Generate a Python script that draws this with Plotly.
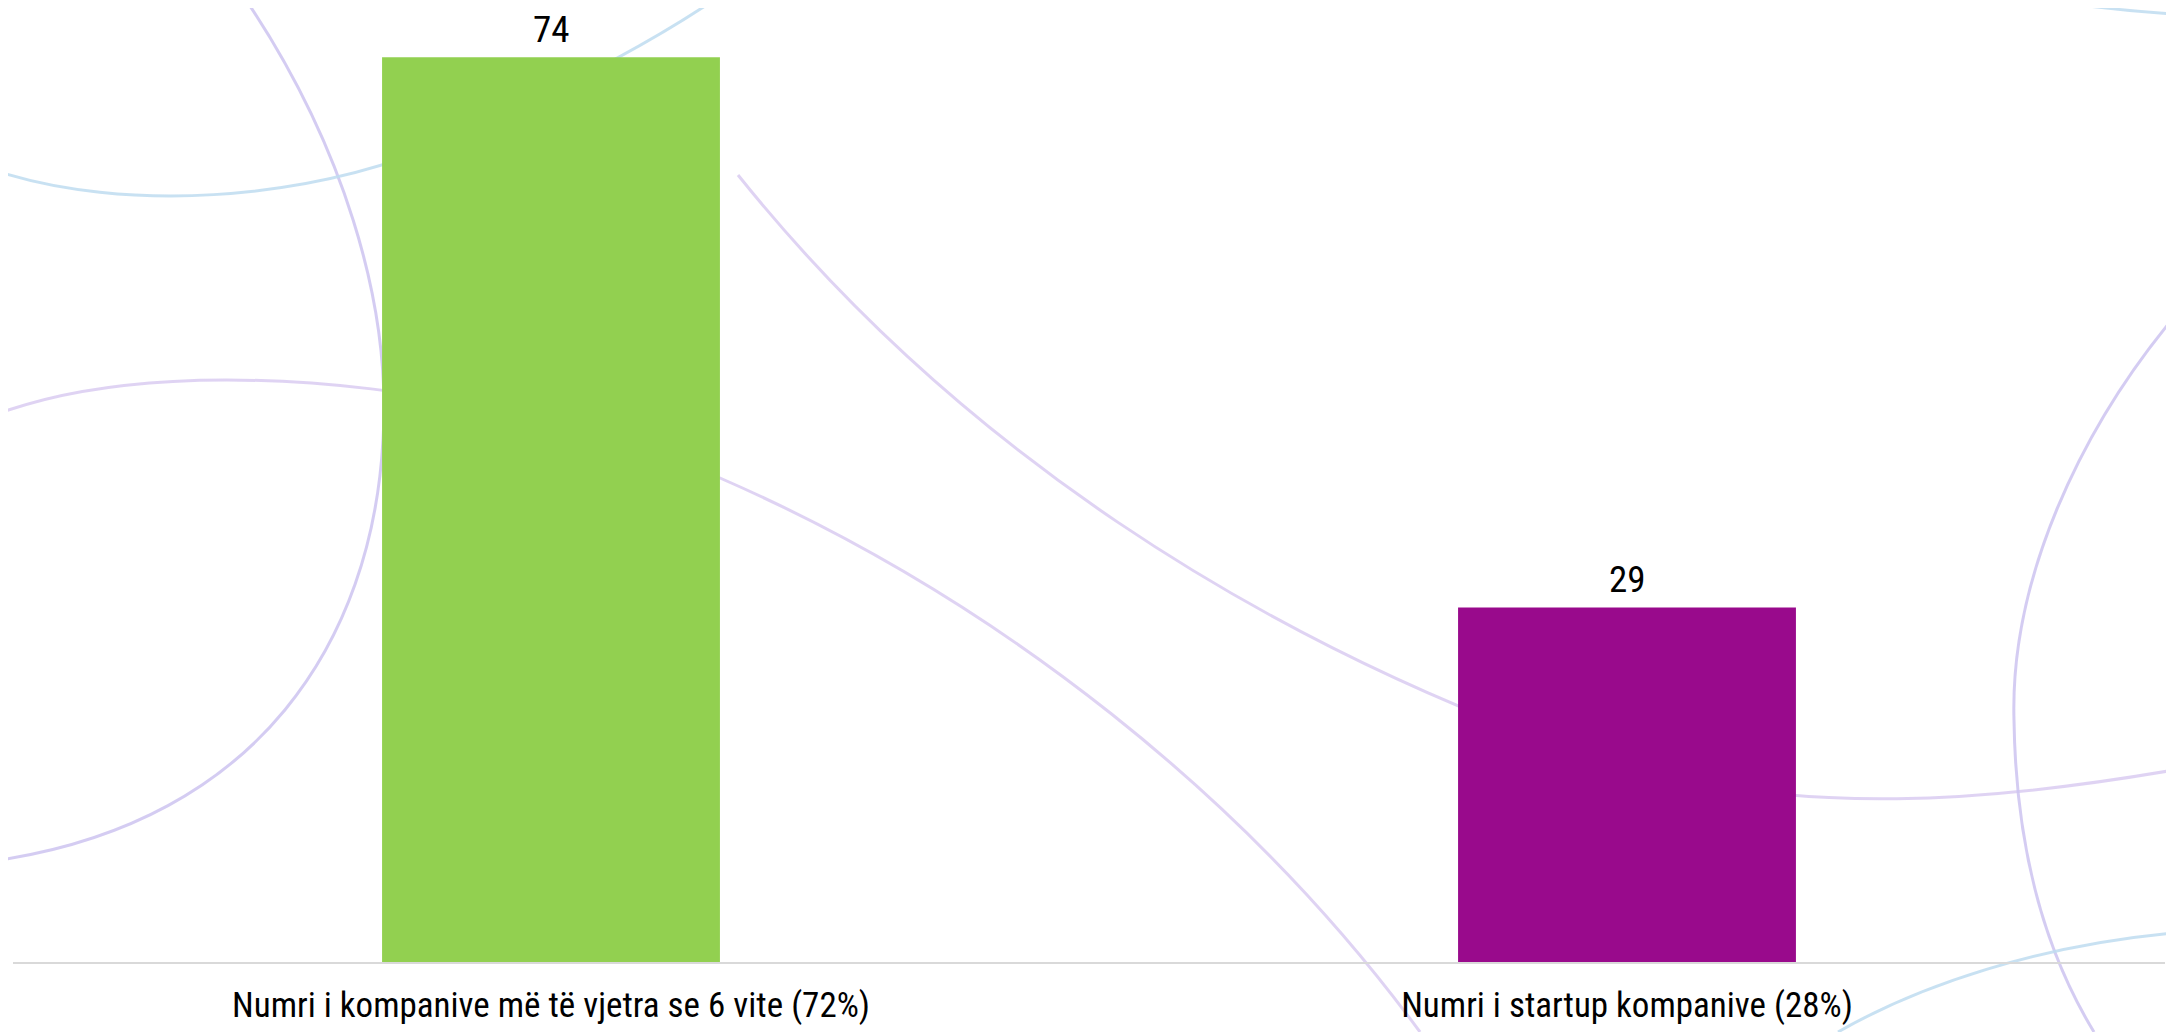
import plotly.graph_objects as go

categories = ["Numri i kompanive më të vjetra se 6 vite (72%)", "Numri i startup kompanive (28%)"]
values = [74, 29]
bar_colors = ["#92d050", "#990a8c"]

OFF = 8  # page body margin of the html page
W_PX, H_PX = 2174 - OFF, 1032 - OFF
M_L, M_R, M_T, M_B = 5, 9, 0, 70
PW = W_PX - M_L - M_R
PH = H_PX - M_T - M_B

FONT = "Roboto Condensed, Noto Sans Condensed, Liberation Sans Narrow, Arial Narrow, DejaVu Sans Condensed, Liberation Sans, sans-serif"


def px_path(cmds):
    """Convert a window-pixel path to paper coordinates."""
    out = []
    for cmd, pts in cmds:
        coords = []
        for i in range(0, len(pts), 2):
            px, py = pts[i] - OFF, pts[i + 1] - OFF
            xp = (px - M_L) / PW
            yp = (H_PX - M_B - py) / PH
            coords.append(f"{xp:.5f},{yp:.5f}")
        out.append(cmd + " " + " ".join(coords))
    return " ".join(out)


LAV = "rgba(205,195,240,0.85)"
LAV2 = "rgba(215,200,240,0.8)"
BLUE = "rgba(190,220,240,0.85)"

deco = [
    ([("M", [246, 0]), ("C", [340, 140, 392, 300, 383, 440]), ("C", [372, 640, 260, 820, 0, 860])], LAV),
    ([("M", [0, 172]), ("C", [120, 210, 300, 205, 450, 140]), ("C", [550, 95, 640, 50, 714, 0])], BLUE),
    ([("M", [0, 413]), ("C", [200, 340, 550, 400, 720, 478]), ("C", [1000, 600, 1250, 800, 1420, 1032])], LAV2),
    ([("M", [738, 175]), ("C", [950, 440, 1250, 640, 1600, 760]), ("C", [1800, 820, 2000, 800, 2174, 770])], LAV2),
    ([("M", [2174, 317]), ("C", [2080, 430, 2010, 580, 2014, 720]), ("C", [2016, 860, 2050, 960, 2094, 1032])], LAV),
    ([("M", [1838, 1032]), ("C", [1920, 985, 2040, 945, 2174, 933])], BLUE),
    ([("M", [2045, 0]), ("Q", [2110, 10, 2174, 14])], BLUE),
]

shapes = []
for cmds, col in deco:
    shapes.append(dict(type="path", xref="paper", yref="paper", path=px_path(cmds),
                       line=dict(color=col, width=3), layer="below"))

fig = go.Figure()
fig.add_trace(go.Bar(x=categories, y=values, marker=dict(color=bar_colors, line=dict(width=0)),
                     width=0.314, showlegend=False, hoverinfo="x+y"))

for c, v in zip(categories, values):
    fig.add_annotation(x=c, y=v, text=str(v), showarrow=False, yanchor="bottom", yshift=5,
                       borderpad=0,
                       font=dict(family=FONT, size=37, color="#000000"))

fig.update_layout(
    width=W_PX, height=H_PX,
    margin=dict(l=M_L, r=M_R, t=M_T, b=M_B, pad=0),
    paper_bgcolor="white", plot_bgcolor="rgba(0,0,0,0)",
    shapes=shapes,
    font=dict(family=FONT, size=35, color="#000000"),
    xaxis=dict(showline=True, linecolor="#d9d9d9", linewidth=2, ticks="", showgrid=False,
               ticklabelstandoff=11,
               tickfont=dict(family=FONT, size=35, color="#000000"), range=[-0.5, 1.5]),
    yaxis=dict(visible=False, range=[0, 954 / 12.225], showgrid=False, zeroline=False),
)

fig.write_html("out.html")
